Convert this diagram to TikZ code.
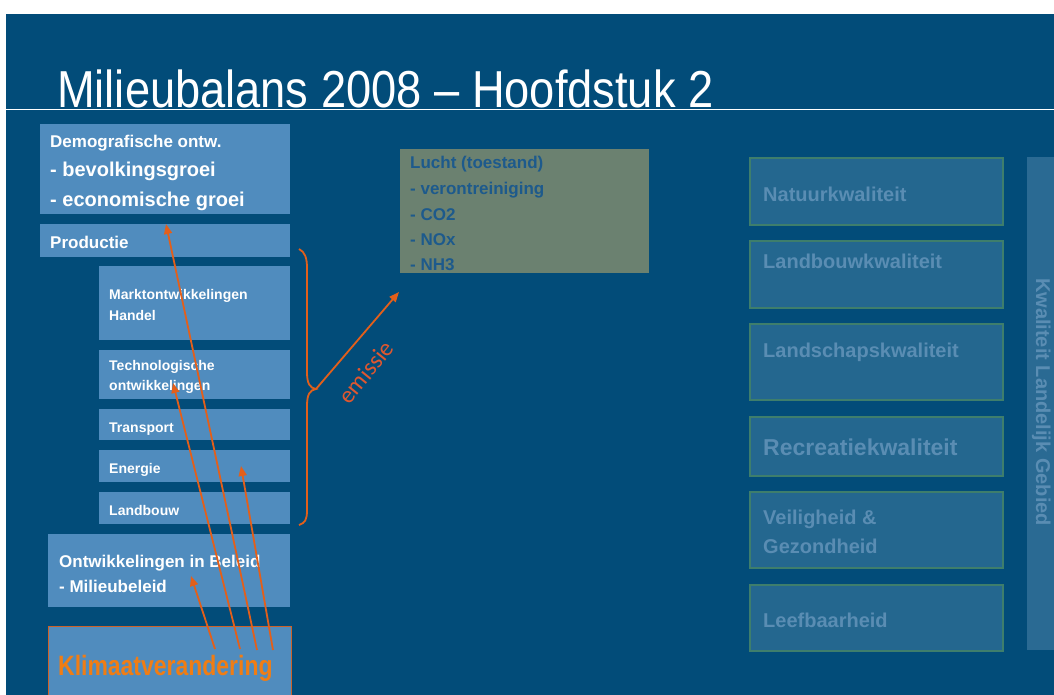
\documentclass[tikz,border=0pt]{standalone}
\usepackage{fontspec}
\setmainfont{Liberation Sans}
\newfontfamily\titlefont[FakeStretch=0.87]{Liberation Sans}
\newfontfamily\klimfont[FakeStretch=0.82]{Liberation Sans}
\newfontfamily\emfont{Carlito}
\usetikzlibrary{arrows.meta}
\definecolor{bg}{RGB}{2,76,121}
\definecolor{steel}{RGB}{80,140,190}
\definecolor{rfill}{RGB}{36,103,143}
\definecolor{rborder}{RGB}{62,126,108}
\definecolor{rtext}{RGB}{90,141,179}
\definecolor{barfill}{RGB}{42,106,147}
\definecolor{luchtfill}{RGB}{107,129,112}
\definecolor{luchttext}{RGB}{29,90,140}
\definecolor{orng}{RGB}{227,95,26}
\definecolor{klimtext}{RGB}{240,125,20}
\definecolor{klimborder}{RGB}{205,98,40}
\definecolor{emred}{RGB}{224,87,47}
\begin{document}
\begin{tikzpicture}[x=1pt,y=-1pt,
  sbox/.style={draw=none, fill=steel, inner sep=0pt, anchor=north west},
  rbox/.style={draw=rborder, line width=2pt, fill=rfill, inner sep=0pt, anchor=north west},
  lt/.style={anchor=base west, inner sep=0pt, text=white, font=\bfseries\fontsize{17}{20}\selectfont},
  st/.style={anchor=base west, inner sep=0pt, text=white, font=\bfseries\fontsize{14}{17}\selectfont},
  ut/.style={anchor=base west, inner sep=0pt, text=luchttext, font=\bfseries\fontsize{17}{20}\selectfont},
  rt/.style={anchor=base west, inner sep=0pt, text=rtext, font=\bfseries\fontsize{20}{24}\selectfont},
  arr/.style={draw=orng, line width=1.8pt, -{Triangle[length=10pt,width=8pt]}}]
\useasboundingbox (0,0) rectangle (1054,695);
\fill[white] (0,0) rectangle (1054,695);
\fill[bg] (6,14) rectangle (1054,695);
% title
\node[anchor=base west, inner sep=0pt, text=white, font=\titlefont\fontsize{52}{60}\selectfont] (title) at (57,108) {Milieubalans 2008 – Hoofdstuk 2};
\coordinate (tl1) at (6,109.5);
\coordinate (tl2) at (1054,109.5);
\draw[white, line width=1.2pt] (tl1) -- (tl2);
% left boxes
\node[sbox, minimum width=250pt, minimum height=90pt] (demo) at (40,124) {};
\node[sbox, minimum width=250pt, minimum height=33pt] (prod) at (40,224) {};
\node[sbox, minimum width=191pt, minimum height=74pt] (markt) at (99,266) {};
\node[sbox, minimum width=191pt, minimum height=49pt] (tech) at (99,350) {};
\node[sbox, minimum width=191pt, minimum height=31pt] (trans) at (99,409) {};
\node[sbox, minimum width=191pt, minimum height=32pt] (energ) at (99,450) {};
\node[sbox, minimum width=191pt, minimum height=32pt] (landb) at (99,492) {};
\node[sbox, minimum width=242pt, minimum height=73pt] (beleid) at (48,534) {};
\node[sbox, draw=klimborder, line width=1.3pt, minimum width=243pt, minimum height=74pt] (klim) at (47.5,626) {};
\node[lt] (demo1) at (50,148) {Demografische ontw.};
\node[lt, font=\bfseries\fontsize{20}{24}\selectfont] (demo2) at (50,177) {- bevolkingsgroei};
\node[lt, font=\bfseries\fontsize{20}{24}\selectfont] (demo3) at (50,207) {- economische groei};
\node[lt] (prodt) at (50,248) {Productie};
\node[st] (markt1) at (109,299) {Marktontwikkelingen};
\node[st] (markt2) at (109,320) {Handel};
\node[st] (tech1) at (109,370) {Technologische};
\node[st] (tech2) at (109,390) {ontwikkelingen};
\node[st] (transt) at (109,432) {Transport};
\node[st] (energt) at (109,473) {Energie};
\node[st] (landbt) at (109,515) {Landbouw};
\node[lt] (bel1) at (59,567) {Ontwikkelingen in Beleid};
\node[lt] (bel2) at (59,592) {- Milieubeleid};
\node[anchor=base west, inner sep=0pt, text=klimtext, font=\klimfont\bfseries\fontsize{28}{32}\selectfont] (klimt) at (58,675) {Klimaatverandering};
% lucht
\node[sbox, fill=luchtfill, minimum width=249pt, minimum height=124pt] (lucht) at (400,149) {};
\node[ut] (l1) at (410,169) {Lucht (toestand)};
\node[ut] (l2) at (410,194) {- verontreiniging};
\node[ut] (l3) at (410,220) {- CO2};
\node[ut] (l4) at (410,245) {- NOx};
\node[ut] (l5) at (410,270) {- NH3};
% right boxes
\node[rbox, minimum width=253pt, minimum height=67pt] (nat) at (749,157) {};
\node[rbox, minimum width=253pt, minimum height=67pt] (lbk) at (749,240) {};
\node[rbox, minimum width=253pt, minimum height=76pt] (lsk) at (749,323) {};
\node[rbox, minimum width=253pt, minimum height=59pt] (rec) at (749,416) {};
\node[rbox, minimum width=253pt, minimum height=76pt] (vei) at (749,491) {};
\node[rbox, minimum width=253pt, minimum height=66pt] (lee) at (749,584) {};
\node[rt] (natt) at (763,201) {Natuurkwaliteit};
\node[rt] (lbkt) at (763,268) {Landbouwkwaliteit};
\node[rt] (lskt) at (763,357) {Landschapskwaliteit};
\node[rt, font=\bfseries\fontsize{23}{27}\selectfont] (rect) at (763,455) {Recreatiekwaliteit};
\node[rt] (vei1) at (763,524) {Veiligheid \&};
\node[rt] (vei2) at (763,553) {Gezondheid};
\node[rt] (leet) at (763,627) {Leefbaarheid};
\node[sbox, fill=barfill, minimum width=30pt, minimum height=493pt] (bar) at (1027,157) {};
\node[rotate=-90, anchor=base, inner sep=0pt, text=rtext, font=\bfseries\fontsize{20}{24}\selectfont] (kwal) at (1036,402) {Kwaliteit Landelijk Gebied};
% brace and emission arrow
\coordinate (btop) at (299,249);
\coordinate (btip) at (316,389);
\coordinate (bbot) at (299,525);
\coordinate (emend) at (399,292);
\draw[orng, line width=1.8pt] (btop) .. controls (305,252) and (307,258) .. (307,268) -- (307,372) .. controls (307,384) and (310,388) .. (btip) .. controls (310,390) and (307,394) .. (307,406) -- (307,510) .. controls (307,520) and (305,523) .. (bbot);
\draw[arr] (btip) -- (emend);
\node[rotate=51, inner sep=0pt, text=emred, font=\emfont\fontsize{24}{28}\selectfont] (em) at (366,372) {emissie};
% arrows from Klimaatverandering
\coordinate (k1) at (215,649);
\coordinate (k2) at (240,649);
\coordinate (k3) at (257,650);
\coordinate (k4) at (273,650);
\coordinate (t1) at (191,576);
\coordinate (t2) at (173,383);
\coordinate (t3) at (166,224);
\coordinate (t4) at (241,466);
\draw[arr] (k1) -- (t1);
\draw[arr] (k2) -- (t2);
\draw[arr] (k3) -- (t3);
\draw[arr] (k4) -- (t4);
\end{tikzpicture}
\end{document}
